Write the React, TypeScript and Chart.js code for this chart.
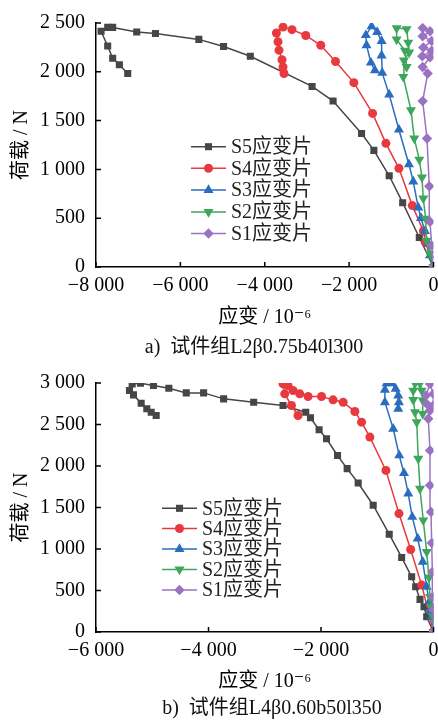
import React, { useEffect, useRef } from "react";
import { Chart, registerables } from "chart.js";
import { drawPoint } from "chart.js/helpers";

Chart.register(...registerables);

// ---------- shared series meta ----------
const SERIES_NAMES = ["S5应变片", "S4应变片", "S3应变片", "S2应变片", "S1应变片"];
const SERIES_COLORS = ["#464646", "#e8393e", "#2a6cc0", "#3ea65a", "#9a72c1"];
const POINT_STYLES = ["rect", "circle", "triangle", "triangle", "rectRot"];
const POINT_ROTATIONS = [0, 0, 0, 180, 0];
const POINT_RADII = [5, 4.5, 5.8, 5.8, 5.2];

const Y_TITLE = "荷载 / N";
const X_TITLE = "应变 / 10⁻⁶";

// ---------- chart a ----------
const A_CAPTION = "a)  试件组L2β0.75b40l300";
const A_X_TICKS = [-8000, -6000, -4000, -2000, 0];
const A_Y_TICKS = [0, 500, 1000, 1500, 2000, 2500];

const A_S5_X = [0, -337, -731, -1050, -1413, -1705, -2380, -2878, -4342, -4976, -5562, -6590, -7035, -7605, -7723, -7880, -7723, -7605, -7446, -7248];
const A_S5_Y = [0, 302, 659, 935, 1195, 1367, 1700, 1850, 2159, 2259, 2332, 2392, 2408, 2455, 2455, 2415, 2265, 2139, 2073, 1983];

const A_S4_X = [0, -190, -240, -503, -819, -1128, -1444, -1888, -2323, -2672, -3028, -3353, -3567, -3724, -3686, -3662, -3591, -3567, -3544];
const A_S4_Y = [0, 252, 369, 629, 1011, 1267, 1574, 1889, 2106, 2272, 2372, 2432, 2458, 2398, 2308, 2222, 2123, 2049, 1983];

const A_S3_X = [0, -83, -123, -202, -297, -361, -480, -582, -819, -1050, -1216, -1230, -1230, -1335, -1468, -1603, -1587, -1484, -1389];
const A_S3_Y = [0, 120, 237, 369, 502, 609, 875, 1051, 1407, 1766, 1989, 2166, 2315, 2408, 2465, 2375, 2272, 2093, 2016];

const A_S2_X = [0, -83, -162, -185, -242, -273, -337, -456, -534, -717, -701, -575, -599, -637, -874, -874, -677, -637];
const A_S2_Y = [0, 137, 270, 496, 702, 918, 1101, 1317, 1607, 1949, 2116, 2199, 2298, 2438, 2448, 2332, 2216, 2049];

const A_S1_X = [0, -43, -83, -100, -154, -257, -138, -257, -83, -266, -43, -242, -43, -257, -83, -257];
const A_S1_Y = [0, 220, 464, 828, 1317, 1700, 1983, 2049, 2149, 2160, 2216, 2249, 2315, 2365, 2415, 2448];

// ---------- chart b ----------
const B_CAPTION = "b)  试件组L4β0.60b50l350";
const B_X_TICKS = [-6000, -4000, -2000, 0];
const B_Y_TICKS = [0, 500, 1000, 1500, 2000, 2500, 3000];

const B_S5_X = [0, -121, -169, -240, -317, -388, -566, -787, -1072, -1339, -1535, -1706, -1902, -2034, -2187, -2271, -2675, -3197, -3731, -4087, -4395, -4705, -4978, -5209, -5357, -5405, -5334, -5197, -5097, -5019, -4930];
const B_S5_Y = [0, 184, 304, 393, 545, 665, 898, 1178, 1527, 1795, 1968, 2127, 2328, 2436, 2581, 2648, 2729, 2768, 2809, 2881, 2881, 2936, 2969, 2997, 2989, 2909, 2857, 2756, 2689, 2648, 2608];

const B_S4_X = [0, -210, -406, -614, -846, -1131, -1279, -1398, -1606, -1785, -1991, -2230, -2378, -2497, -2586, -2675, -2645, -2525, -2408];
const B_S4_Y = [0, 565, 994, 1427, 1947, 2348, 2528, 2656, 2768, 2797, 2837, 2837, 2869, 2909, 2969, 2989, 2869, 2729, 2608];

const B_S3_X = [0, -32, -62, -75, -121, -192, -281, -378, -449, -525, -609, -716, -864, -864, -834, -744, -673, -627, -614, -627];
const B_S3_Y = [0, 184, 264, 364, 545, 845, 1126, 1386, 1667, 1915, 2127, 2448, 2768, 2917, 2995, 2995, 2929, 2849, 2768, 2689];

const B_S2_X = [0, -4, -32, -62, -80, -121, -182, -240, -271, -298, -329, -360, -360, -329, -240, -210, -192, -192];
const B_S2_Y = [0, 184, 304, 424, 657, 965, 1346, 1727, 2088, 2528, 2648, 2797, 2909, 2995, 2995, 2909, 2789, 2629];

const B_S1_X = [0, -4, -14, -21, -32, -45, -62, -62, -93, -62, -121, -134, -62, -4, -4];
const B_S1_Y = [0, 264, 424, 725, 1073, 1446, 1767, 2188, 2569, 2668, 2749, 2849, 2989, 2869, 2729];

// ---------- styling ----------
const FONT_FAMILY = '"Liberation Serif", "DejaVu Serif", "Noto Sans CJK SC", serif';
const FONT_SIZE = 20;

function fmt(v: number): string {
  const s = Math.abs(v).toString().replace(/\B(?=(\d{3})+(?!\d))/g, " ");
  return (v < 0 ? "\u2212" : "") + s;
}

const innerTicksPlugin = {
  id: "innerTicks",
  afterDraw(chart: any) {
    const { ctx } = chart;
    const xs = chart.scales.x;
    const ys = chart.scales.y;
    ctx.save();
    ctx.strokeStyle = "#000";
    ctx.lineWidth = 1.5;
    ctx.beginPath();
    xs.ticks.forEach((t: any) => {
      const px = xs.getPixelForValue(t.value);
      ctx.moveTo(px, xs.top);
      ctx.lineTo(px, xs.top - 5);
    });
    ys.ticks.forEach((t: any) => {
      const py = ys.getPixelForValue(t.value);
      ctx.moveTo(ys.right, py);
      ctx.lineTo(ys.right + 5, py);
    });
    ctx.stroke();
    ctx.restore();
  },
};

const insetLegendPlugin = {
  id: "insetLegend",
  afterDatasetsDraw(chart: any, _args: any, opts: any) {
    const { ctx } = chart;
    ctx.save();
    ctx.font = `${FONT_SIZE}px ${FONT_FAMILY}`;
    ctx.textBaseline = "middle";
    ctx.textAlign = "left";
    (opts.rows as number[]).forEach((ry: number, i: number) => {
      const x0 = opts.textX - 40;
      const x1 = opts.textX - 5;
      ctx.strokeStyle = SERIES_COLORS[i];
      ctx.lineWidth = 1.5;
      ctx.beginPath();
      ctx.moveTo(x0, ry);
      ctx.lineTo(x1, ry);
      ctx.stroke();
      ctx.fillStyle = SERIES_COLORS[i];
      ctx.strokeStyle = SERIES_COLORS[i];
      drawPoint(ctx, {
        pointStyle: POINT_STYLES[i],
        rotation: POINT_ROTATIONS[i],
        radius: POINT_RADII[i],
        borderWidth: 0,
      } as any, (x0 + x1) / 2, ry);
      ctx.fillStyle = "#222";
      ctx.fillText(SERIES_NAMES[i], opts.textX, ry + 1);
    });
    ctx.restore();
  },
};

type PanelProps = {
  width: number;
  height: number;
  xTicks: number[];
  yTicks: number[];
  series: [number[], number[]][];
  padTop: number;
  plotBottom: number;
  xTitleCenter: number;
  legendRows: number[];
  legendTextX: number;
};

function Panel(p: PanelProps) {
  const ref = useRef<HTMLCanvasElement | null>(null);
  useEffect(() => {
    if (!ref.current) return;
    const fontObj = { family: FONT_FAMILY, size: FONT_SIZE };
    const datasets = p.series.map(([xs, ys], i) => ({
      label: SERIES_NAMES[i],
      data: xs.map((x, k) => ({ x, y: ys[k] })),
      showLine: true,
      borderColor: SERIES_COLORS[i],
      backgroundColor: SERIES_COLORS[i],
      borderWidth: 1.5,
      pointStyle: POINT_STYLES[i],
      pointRotation: POINT_ROTATIONS[i],
      pointRadius: POINT_RADII[i],
      pointBorderWidth: 0,
      pointBackgroundColor: SERIES_COLORS[i],
      order: 5 - i,
      tension: 0,
    }));
    const xTitleLH = FONT_SIZE * 1.2;
    const chart = new Chart(ref.current, {
      type: "scatter",
      data: { datasets },
      plugins: [innerTicksPlugin, insetLegendPlugin],
      options: {
        animation: false,
        responsive: false,
        maintainAspectRatio: false,
        layout: { padding: { top: p.padTop, right: p.width - 433.5, left: 0, bottom: 0 } },
        plugins: {
          legend: { display: false },
          tooltip: { enabled: false },
          insetLegend: { rows: p.legendRows, textX: p.legendTextX },
        } as any,
        scales: {
          x: {
            type: "linear",
            min: p.xTicks[0],
            max: p.xTicks[p.xTicks.length - 1],
            grid: { display: false, drawTicks: false },
            border: { display: true, color: "#000", width: 1.5 },
            afterBuildTicks: (s: any) => {
              s.ticks = p.xTicks.map((v) => ({ value: v }));
            },
            afterFit: (s: any) => {
              s.height = p.height - p.plotBottom;
            },
            ticks: {
              font: fontObj,
              color: "#000",
              padding: 7,
              maxRotation: 0,
              autoSkip: false,
              callback: (v: any) => fmt(Number(v)),
            },
            title: {
              display: true,
              text: X_TITLE,
              font: fontObj,
              color: "#000",
              padding: { top: 0, bottom: p.height - p.xTitleCenter - xTitleLH / 2 },
            },
          },
          y: {
            type: "linear",
            min: p.yTicks[0],
            max: p.yTicks[p.yTicks.length - 1],
            grid: { display: false, drawTicks: false },
            border: { display: true, color: "#000", width: 1.5 },
            afterBuildTicks: (s: any) => {
              s.ticks = p.yTicks.map((v) => ({ value: v }));
            },
            afterFit: (s: any) => {
              s.width = 96;
            },
            ticks: {
              font: fontObj,
              color: "#000",
              padding: 11,
              autoSkip: false,
              callback: (v: any) => fmt(Number(v)),
            },
            title: {
              display: true,
              text: Y_TITLE,
              font: fontObj,
              color: "#000",
              padding: { top: 10, bottom: 0 },
            },
          },
        },
      } as any,
    });
    return () => chart.destroy();
  }, []);
  return (
    <canvas
      ref={ref}
      width={p.width}
      height={p.height}
      style={{ width: p.width, height: p.height, display: "block" }}
    />
  );
}

const captionStyle = (cx: number, cy: number): React.CSSProperties => ({
  position: "absolute",
  left: cx - 160,
  top: cy - 12,
  width: 320,
  height: 24,
  lineHeight: "24px",
  textAlign: "center",
  fontFamily: FONT_FAMILY,
  fontSize: FONT_SIZE,
  color: "#111",
  whiteSpace: "pre",
});

export default function App() {
  return (
    <div
      style={{
        position: "absolute",
        left: 0,
        top: 0,
        width: 438,
        height: 722,
        overflow: "hidden",
        background: "#fff",
      }}
    >
      <div style={{ position: "absolute", left: 0, top: 0 }}>
        <Panel
          width={450}
          height={360}
          xTicks={A_X_TICKS}
          yTicks={A_Y_TICKS}
          series={[
            [A_S5_X, A_S5_Y],
            [A_S4_X, A_S4_Y],
            [A_S3_X, A_S3_Y],
            [A_S2_X, A_S2_Y],
            [A_S1_X, A_S1_Y],
          ]}
          padTop={16.5}
          plotBottom={267}
          xTitleCenter={318}
          legendRows={[146.7, 168.3, 190, 212, 233.5]}
          legendTextX={231}
        />
      </div>
      <div style={{ position: "absolute", left: 0, top: 360 }}>
        <Panel
          width={450}
          height={362}
          xTicks={B_X_TICKS}
          yTicks={B_Y_TICKS}
          series={[
            [B_S5_X, B_S5_Y],
            [B_S4_X, B_S4_Y],
            [B_S3_X, B_S3_Y],
            [B_S2_X, B_S2_Y],
            [B_S1_X, B_S1_Y],
          ]}
          padTop={22.5}
          plotBottom={272}
          xTitleCenter={322}
          legendRows={[148.3, 168.5, 189, 209.5, 230]}
          legendTextX={202}
        />
      </div>
      <div style={captionStyle(254, 346)}>{A_CAPTION}</div>
      <div style={captionStyle(272, 707)}>{B_CAPTION}</div>
    </div>
  );
}
